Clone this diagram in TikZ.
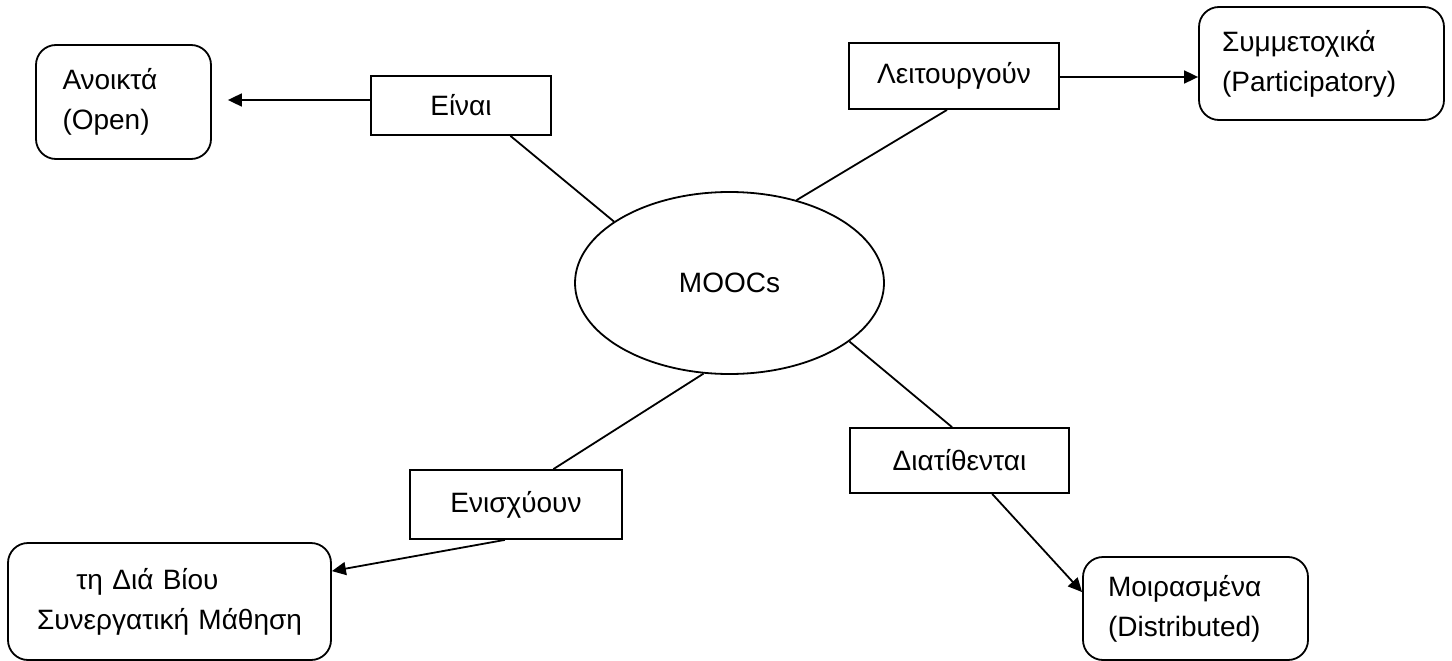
\documentclass[tikz,border=0pt]{standalone}
\usepackage{fontspec}
\setmainfont{Liberation Sans}
\usetikzlibrary{arrows.meta,calc,shapes.geometric}
\begin{document}
\begin{tikzpicture}[x=1pt,y=-1pt,
  every node/.style={font=\fontsize{28}{40}\selectfont},
  relbox/.style={draw,line width=1.8pt,rectangle,inner sep=0pt},
  conbox/.style={draw,line width=1.8pt,rectangle,rounded corners=20pt,inner ysep=0pt},
  conn/.style={line width=1.8pt},
  arr/.style={conn,-{Triangle[length=14pt,width=13pt]}}]
\useasboundingbox (0,0) rectangle (1452,661);

\node[draw,ellipse,line width=1.8pt,minimum width=309pt,minimum height=182pt,inner sep=0pt] (mooc) at (729.5,283) {MOOCs};

\node[relbox,minimum width=180pt,minimum height=59pt] (eina) at (461,105.5) {Είναι};
\node[relbox,minimum width=210pt,minimum height=66pt] (leit) at (954,76) {Λειτουργούν};
\node[relbox,minimum width=212pt,minimum height=69pt] (enis) at (516,504.5) {Ενισχύουν};
\node[relbox,minimum width=219pt,minimum height=65pt] (diat) at (959.5,460.5) {Διατίθενται};

\node[conbox,inner xsep=26.5pt,text width=122pt,align=left,minimum height=114pt] (open) at (123.5,102) {Ανοικτά\\(Open)};
\node[conbox,inner xsep=23pt,text width=199pt,align=left,minimum height=113pt] (part) at (1321.5,63.5) {Συμμετοχικά\\(Participatory)};
\node[conbox,inner xsep=25pt,text width=175pt,align=left,minimum height=103pt] (dist) at (1195.5,608.5) {Μοιρασμένα\\(Distributed)};
\node[conbox,inner xsep=10pt,text width=303pt,align=center,minimum height=117pt] (life) at (169.5,601.5) {τη Διά Βίου\hbox to 44pt{}\\Συνεργατική Μάθηση};

\draw[conn] ($(eina.south west)!0.772!(eina.south east)$) -- (mooc.152);
\draw[conn] ($(leit.south west)!0.467!(leit.south east)$) -- (mooc.51);
\draw[conn] ($(enis.north west)!0.675!(enis.north east)$) -- (mooc.254);
\draw[conn] ($(diat.north west)!0.466!(diat.north east)$) -- (mooc.334);

\draw[arr,shorten >=16pt] ([yshift=5.5pt]eina.west) -- ([yshift=5.5pt]eina.west -| open.east);
\draw[arr] ([yshift=-1pt]leit.east) -- ([yshift=-1pt]leit.east -| part.west);
\draw[arr] ($(enis.south west)!0.448!(enis.south east)$) -- ($(life.north east)+(0,29)$);
\draw[arr] ($(diat.south west)!0.648!(diat.south east)$) -- ($(dist.north west)+(0,36)$);
\end{tikzpicture}
\end{document}
